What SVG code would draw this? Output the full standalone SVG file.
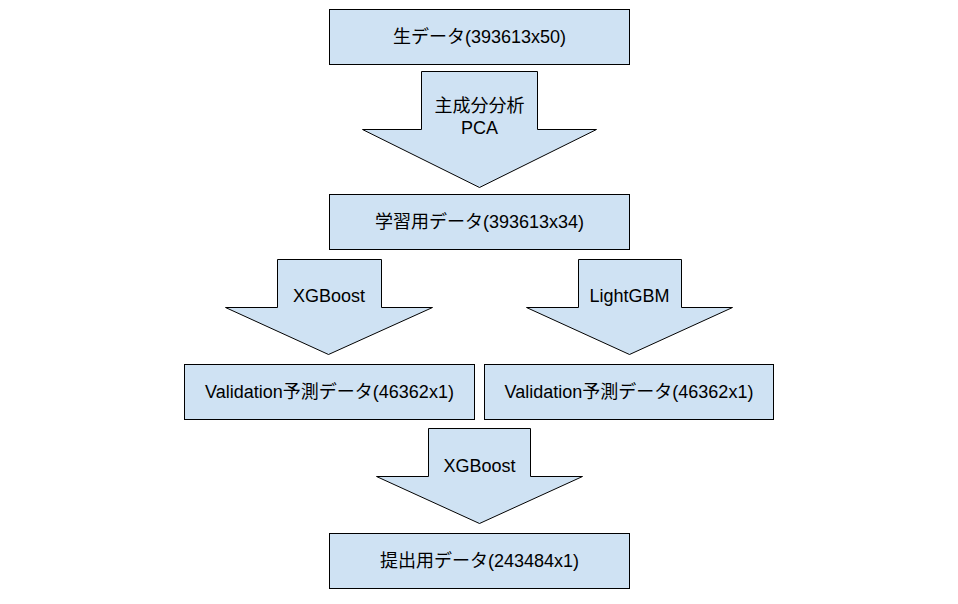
<svg xmlns="http://www.w3.org/2000/svg" width="958" height="604" viewBox="0 0 958 604">
<style>
.box{fill:#cfe2f3;stroke:#000;stroke-width:1}
.arr{fill:#cfe2f3;stroke:#000;stroke-width:1;stroke-linejoin:miter}
text{font-family:"Liberation Sans","Noto Sans CJK JP",Arial,sans-serif;font-size:18px;fill:#000;text-anchor:middle}
</style>
<rect width="958" height="604" fill="#fff"/>
<g id="connectors">
<g id="arrow-pca">
<polygon class="arr" points="421.5,71.5 537.5,71.5 537.5,129.5 596.5,129.5 479.5,187.5 362.5,129.5 421.5,129.5"/>
<text x="479.5" y="112">主成分分析</text>
<text x="479.5" y="134">PCA</text>
</g>
<g id="arrow-xgb1">
<polygon class="arr" points="277.5,259.5 381.5,259.5 381.5,307.5 432.5,307.5 328.5,354.5 225.5,307.5 277.5,307.5"/>
<text x="329" y="302">XGBoost</text>
</g>
<g id="arrow-lgbm">
<polygon class="arr" points="578.5,259.5 681.5,259.5 681.5,307.5 732.5,307.5 629.5,354.5 526.5,307.5 578.5,307.5"/>
<text x="629.5" y="302">LightGBM</text>
</g>
<g id="arrow-xgb2">
<polygon class="arr" points="428.5,428.5 530.5,428.5 530.5,476.5 582.5,476.5 479.5,523.5 376.5,476.5 428.5,476.5"/>
<text x="479.5" y="472">XGBoost</text>
</g>
</g>
<g id="raw">
<rect class="box" x="329.5" y="9.5" width="300" height="55"/>
<text x="479.5" y="43">生データ(393613x50)</text>
</g>
<g id="train">
<rect class="box" x="329.5" y="194.5" width="300" height="55"/>
<text x="479.5" y="228">学習用データ(393613x34)</text>
</g>
<g id="val-xgb">
<rect class="box" x="184.5" y="364.5" width="290" height="55"/>
<text x="329.5" y="398">Validation予測データ(46362x1)</text>
</g>
<g id="val-lgbm">
<rect class="box" x="484.5" y="364.5" width="289" height="55"/>
<text x="629" y="398">Validation予測データ(46362x1)</text>
</g>
<g id="submit">
<rect class="box" x="329.5" y="533.5" width="300" height="55"/>
<text x="479.5" y="567">提出用データ(243484x1)</text>
</g>
</svg>
